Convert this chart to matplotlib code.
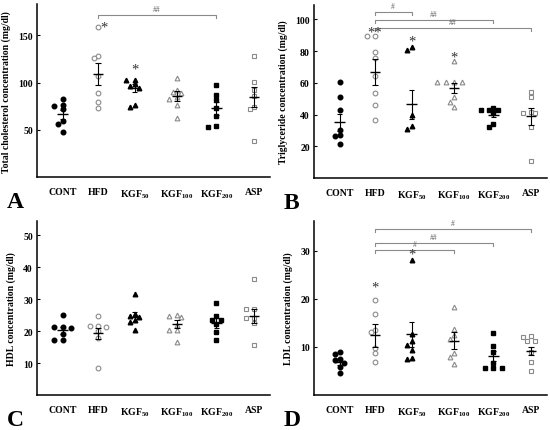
#!/usr/bin/env python

# Import matplotlib and numpy for the plots:
import matplotlib
matplotlib.use("Agg")
import matplotlib.pyplot as plt
import numpy as np

# Use a Times-like bold serif font everywhere:
plt.rcParams['font.family'] = ['Liberation Serif', 'DejaVu Serif']
plt.rcParams['font.weight'] = 'bold'
plt.rcParams['mathtext.fontset'] = 'custom'
plt.rcParams['mathtext.rm'] = 'Liberation Serif:bold'

# Group names and tick labels:
groups = ["CONT", "HFD", "KGF50", "KGF100", "KGF200", "ASP"]
tick_labels = ["CONT", "HFD", r"KGF$_\mathregular{50}$", r"KGF$_\mathregular{100}$",
               r"KGF$_\mathregular{200}$", "ASP"]

# Panel A - total cholesterol (mg/dl), individual animals:
tc_values = [
    [82.9, 76.6, 75.2, 71.7, 59.8, 56.6, 48.3],
    [158.7, 128.3, 125.5, 106.6, 88.8, 79.0, 73.1],
    [103.1, 102.8, 98.3, 96.2, 94.4, 76.6, 74.1],
    [104.5, 92.3, 89.9, 89.5, 84.3, 82.9, 75.9, 62.9],
    [97.2, 87.2, 82.0, 73.2, 64.3, 54.2, 52.8],
    [128.0, 100.3, 92.7, 86.0, 74.1, 72.0, 38.5],
]
tc_mean = [66.4, 109.0, 94.0, 85.7, 72.7, 84.6]
tc_sem = [4.7, 12.0, 4.4, 5.0, 6.5, 10.5]

# Panel B - triglyceride (mg/dl):
tg_values = [
    [60.4, 51.2, 42.8, 30.3, 27.3, 26.3, 21.3],
    [89.3, 89.3, 79.3, 75.3, 64.2, 53.3, 46.2, 36.3],
    [82.8, 80.7, 39.9, 33.0, 30.9],
    [73.8, 60.2, 60.2, 60.2, 60.2, 50.8, 48.1, 44.9],
    [44.3, 43.0, 43.0, 43.0, 40.9, 34.2, 32.1],
    [53.9, 51.0, 41.8, 41.2, 40.9, 32.0, 11.0],
]
tg_mean = [35.0, 66.9, 46.4, 56.9, 39.9, 38.8]
tg_sem = [5.6, 8.0, 9.1, 3.2, 1.7, 5.5]

# Panel C - HDL (mg/dl):
hdl_values = [
    [25.1, 21.4, 21.2, 21.0, 19.0, 17.2, 17.2],
    [24.6, 21.6, 21.5, 21.4, 20.0, 17.8, 8.3],
    [31.6, 25.4, 24.7, 24.4, 23.5, 22.9, 20.4],
    [25.0, 24.8, 24.4, 22.0, 20.4, 20.4, 16.5],
    [28.8, 24.8, 23.6, 23.5, 22.1, 19.7, 17.2],
    [36.4, 26.8, 26.8, 24.2, 24.2, 22.5, 15.5],
]
hdl_mean = [20.2, 19.3, 24.4, 22.2, 22.6, 24.8]
hdl_sem = [1.1, 1.8, 1.5, 1.2, 1.5, 2.2]

# Panel D - LDL (mg/dl):
ldl_values = [
    [9.0, 8.5, 7.6, 7.2, 6.7, 5.8, 4.5],
    [19.8, 16.9, 13.6, 13.1, 9.8, 8.7, 6.8],
    [28.1, 12.6, 11.3, 10.5, 9.4, 7.7, 7.4],
    [18.4, 13.7, 12.4, 11.6, 8.7, 8.0, 6.5],
    [12.9, 10.3, 9.0, 6.7, 5.6, 5.6, 5.6],
    [12.2, 12.0, 11.3, 11.2, 9.0, 6.9, 5.1],
]
ldl_mean = [6.9, 12.4, 12.6, 11.3, 8.1, 9.2]
ldl_sem = [0.6, 2.3, 2.7, 1.8, 1.1, 0.9]

# Significance marks: (group from, group to, height, label) and (group, height, label):
tc_brackets = [(1, 4, 171, "##")]
tc_stars = [(1, 162, "*"), (2, 118, "*")]
tg_brackets = [(1, 2, 104.8, "#"), (1, 4, 99.8, "##"), (1, 5, 94.8, "##")]
tg_stars = [(1, 94, "**"), (2, 88.5, "*"), (3, 78.5, "*")]
hdl_brackets = []
hdl_stars = []
ldl_brackets = [(1, 5, 34.5, "#"), (1, 4, 31.7, "##"), (1, 3, 30.3, "#")]
ldl_stars = [(1, 23.2, "*"), (2, 30.0, "*")]

# Marker style per group (filled = black, open = grey edge):
markers = ["o", "o", "^", "^", "s", "s"]
filled = [True, False, True, False, True, False]

# x position of each group on the axis (labels are not evenly spaced):
xpos = [0, 1, 2.03, 3.23, 4.34, 5.4]

fig_w, fig_h = 550, 431
fig = plt.figure(figsize=(fig_w / 100, fig_h / 100), dpi=100)


# Spread points of one group sideways so they do not overlap (simple beeswarm):
def swarm(values, center, px_x, px_y, dist=4.4):
    placed = []
    xs = []
    for v in values:
        for k in [0, -1, 1, -2, 2, -3, 3, -4, 4]:
            dx = k * dist * 0.95
            ok = all((dx - p[0]) ** 2 + ((v - p[1]) * px_y) ** 2 >= dist ** 2 for p in placed)
            if ok:
                break
        placed.append((dx, v))
        xs.append(center + dx / px_x)
    return xs


# Draw one panel:
def panel(rect, values, means, sems, ylim, yticks, ylabel, letter, brackets, stars):
    ax = fig.add_axes(rect)
    ax.set_xlim(-0.72, 5.85)
    ax.set_ylim(*ylim)
    px_x = rect[2] * fig_w / (5.85 + 0.72)
    px_y = rect[3] * fig_h / (ylim[1] - ylim[0])

    for i in range(len(groups)):
        xs = swarm(values[i], xpos[i], px_x, px_y)
        if filled[i]:
            ax.plot(xs, values[i], linestyle="none", marker=markers[i], ms=3.3,
                    mfc="black", mec="black", zorder=3)
        else:
            ax.plot(xs, values[i], linestyle="none", marker=markers[i], ms=3.4,
                    mfc="white", mec="#8a8a8a", mew=0.8, zorder=3)
        # mean and SEM:
        ax.hlines(means[i], xpos[i] - 0.15, xpos[i] + 0.15, color="black", lw=1.0, zorder=4)
        ax.vlines(xpos[i], means[i] - sems[i], means[i] + sems[i], color="black", lw=0.8, zorder=4)
        ax.hlines([means[i] - sems[i], means[i] + sems[i]], xpos[i] - 0.08, xpos[i] + 0.08,
                  color="black", lw=0.8, zorder=4)

    # brackets for comparisons with HFD:
    drop = 0.018 * (ylim[1] - ylim[0])
    for a, b, y, lab in brackets:
        ax.plot([xpos[a], xpos[a], xpos[b], xpos[b]], [y - drop, y, y, y - drop],
                color="#8a8a8a", lw=0.8)
        ax.text((xpos[a] + xpos[b]) / 2, y + 0.6 * drop, lab, ha="center", va="bottom",
                fontsize=5.5, color="#666666", fontweight="normal")

    # asterisks (the glyph sits high in its box, so move it down a little):
    shift = 0.02 * (ylim[1] - ylim[0])
    for g, y, lab in stars:
        dx = 0.17 if (g == 1 and lab == "*" and letter == "A") else 0
        ax.text(xpos[g] + dx, y - shift, lab, ha="center", va="center", fontsize=10.5,
                color="#333333", fontweight="normal")

    ax.spines['top'].set_visible(False)
    ax.spines['right'].set_visible(False)
    ax.spines['left'].set_linewidth(1.1)
    ax.spines['bottom'].set_linewidth(1.1)
    ax.set_xticks(xpos)
    ax.set_xticklabels(tick_labels, fontsize=7, fontweight="bold")
    ax.tick_params(axis="x", length=0, pad=7)
    ax.set_yticks(yticks)
    ax.set_yticklabels([str(t) for t in yticks], fontsize=7, fontweight="bold")
    ax.tick_params(axis="y", direction="in", length=2.5, width=0.8, pad=3)
    ax.set_ylabel(ylabel, fontsize=7, fontweight="bold", labelpad=5)
    ax.text(-0.13, -0.14, letter, transform=ax.transAxes, fontsize=17,
            fontweight="bold", ha="left", va="center")
    return ax


# Panel rectangles in figure fractions:
panel([37 / fig_w, (fig_h - 178.3) / fig_h, 233 / fig_w, 173.3 / fig_h],
      tc_values, tc_mean, tc_sem, (0, 183), [50, 100, 150],
      "Total cholesterol concentration (mg/dl)", "A", tc_brackets, tc_stars)
panel([314 / fig_w, (fig_h - 179) / fig_h, 233 / fig_w, 173 / fig_h],
      tg_values, tg_mean, tg_sem, (0, 109), [20, 40, 60, 80, 100],
      "Triglyceride concentration (mg/dl)", "B", tg_brackets, tg_stars)
panel([37 / fig_w, (fig_h - 396) / fig_h, 233 / fig_w, 174.3 / fig_h],
      hdl_values, hdl_mean, hdl_sem, (0, 54.5), [10, 20, 30, 40, 50],
      "HDL concentration (mg/dl)", "C", hdl_brackets, hdl_stars)
panel([314 / fig_w, (fig_h - 396) / fig_h, 233 / fig_w, 174.3 / fig_h],
      ldl_values, ldl_mean, ldl_sem, (0, 36.3), [10, 20, 30],
      "LDL concentration (mg/dl)", "D", ldl_brackets, ldl_stars)

plt.savefig("out.png", dpi=100)
